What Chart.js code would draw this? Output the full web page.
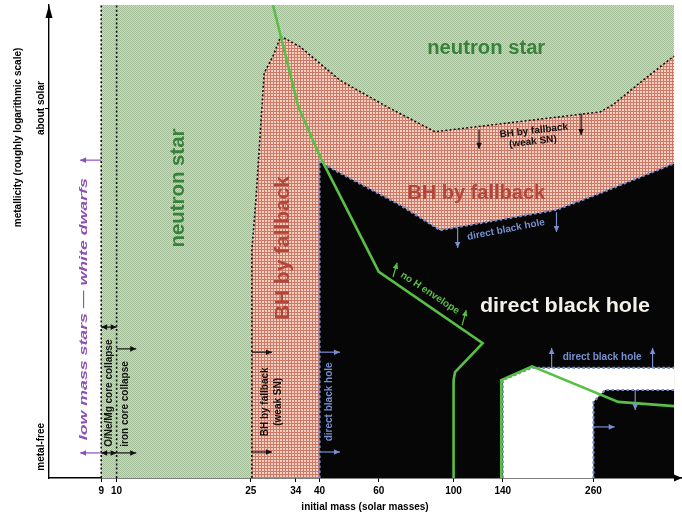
<!DOCTYPE html>
<html>
<head>
<meta charset="utf-8">
<script src="https://cdn.jsdelivr.net/npm/chart.js@4.4.1/dist/chart.umd.min.js"></script>
<style>
  html, body { margin: 0; padding: 0; background: #fff; }
  #wrap { width: 682px; height: 516px; }
</style>
</head>
<body>
<div id="wrap"><canvas id="remnants" width="682" height="516"></canvas></div>
<script>
"use strict";

// x: initial mass (solar masses, log), y: metallicity (0 = metal-free, arbitrary units)
const massTicks = [9, 10, 25, 34, 40, 60, 100, 140, 260];
const massTickLabels = ["9", "10", "25", "34", "40", "60", "100", "140", "260"];
const metalTicks = [6.6, 78.2];
const metalTickLabels = ["metal-free", "about solar"];

// regions as [mass, metallicity] polygons
const neutronStar = [[9, 0], [9, 100], [451, 100], [451, 0], [9, 0]];
const fallbackBH = [[25.2, 0], [25.2, 48.2], [25.9, 58.8], [27.4, 85.6], [29.2, 89.4], [30.7, 93.4],
  [35, 91.2], [46, 84.1], [63.4, 78.5], [82.3, 74.3], [88.1, 73.2], [272, 77.4], [297, 78.9],
  [365, 84.1], [451, 89.2], [451, 0], [25.2, 0]];
const directBH = [[40, 0], [40, 66.8], [69.4, 57.7], [91.2, 52.4], [100, 52.9], [202, 56.7],
  [272, 60.2], [451, 66.5], [451, 0], [40, 0]];
const pairInstability = [[140, 0], [140, 20.7], [171, 23.3], [451, 23.3], [451, 18.6],
  [281.5, 18.6], [260, 16.1], [260, 0], [140, 0]];

// boundary of hydrogen envelope loss
const noHEnvelope = [[29.1, 100], [30.7, 93.4], [32.7, 85.6], [34.6, 78.5], [40.2, 67.9],
  [60, 43.6], [122, 28.5], [101, 22.4], [100, 20.7], [100, 0]];
const noHEnvelopePair = [[138.5, 0], [138.5, 20.7], [171, 23.6], [308, 16.1], [451, 15.2]];

const massDividers = [9, 10];

const FONT = "'Liberation Sans', Arial, Helvetica, sans-serif";
const GREEN_TXT = "#37823a";
const RED_TXT = "#b3463a";
const BLUE = "#7890d2";
const PURPLE = "#8d50b6";
const LINE_GREEN = "#58c046";

function makePattern(w, h, paint) {
  const c = document.createElement("canvas");
  c.width = w; c.height = h;
  const g = c.getContext("2d");
  paint(g);
  return g.createPattern(c, "repeat");
}

const greenPat = makePattern(2, 2, g => {
  g.fillStyle = "#dcd6b4"; g.fillRect(0, 0, 2, 2);
  g.fillStyle = "#a3bc98"; g.fillRect(0, 0, 1, 1); g.fillRect(1, 1, 1, 1);
});
const pinkPat = makePattern(3, 3, g => {
  g.fillStyle = "#f4d2c2"; g.fillRect(0, 0, 3, 3);
  g.fillStyle = "#cf7868"; g.fillRect(0, 0, 3, 1); g.fillRect(0, 0, 1, 3);
});

function ds(points, extra) {
  return Object.assign({
    data: points.map(([x, y]) => ({ x, y })),
    pointRadius: 0,
    pointHoverRadius: 0,
    tension: 0,
    borderWidth: 1,
    borderColor: "rgba(0,0,0,0)",
    fill: false
  }, extra);
}

const dotted = { borderColor: "#111", borderWidth: 1.6, borderDash: [2, 2.2], order: 9 };
const blueDotted = { borderColor: BLUE, borderWidth: 2.2, borderDash: [2.5, 2.5], order: 8 };
const greenLine = { borderColor: LINE_GREEN, borderWidth: 2.6, order: 5 };

const datasets = [
  ds(neutronStar, { fill: "shape", backgroundColor: greenPat, order: 20 }),
  ds(fallbackBH, { fill: "shape", backgroundColor: pinkPat, order: 19 }),
  ds(directBH, { fill: "shape", backgroundColor: "#060606", order: 18 }),
  ds(pairInstability, { fill: "shape", backgroundColor: "#ffffff", order: 17 }),
  ...massDividers.map(m => ds([[m, 0], [m, 100]], dotted)),
  ds(fallbackBH.slice(0, -2), dotted),
  ds(directBH.slice(0, -2), blueDotted),
  ds(pairInstability.slice(0, 4), blueDotted),
  ds(pairInstability.slice(4, 8), blueDotted),
  ds(noHEnvelope, greenLine),
  ds(noHEnvelopePair, greenLine)
];

// annotation text: [text, mass, metallicity, rotation, font, colour, align, width]
const notes = [
  ["neutron star", 15.3, 61.3, -90, "bold 20px " + FONT, GREEN_TXT, "center", 119],
  ["neutron star", 125, 90.9, 0, "bold 20px " + FONT, GREEN_TXT, "center", 118],
  ["BH by fallback", 31.2, 48.6, -90, "bold 20px " + FONT, RED_TXT, "center", 144],
  ["BH by fallback", 116.7, 60.2, 0, "bold 20px " + FONT, RED_TXT, "center", 138],
  ["direct black hole", 214, 36.2, 0, "bold 20px " + FONT, "#f4f0e8", "center", 170],
  ["BH by fallback", 173, 73.4, -6.7, "bold 10px " + FONT, "#111", "center"],
  ["(weak SN)", 172, 71.1, -6.7, "bold 10px " + FONT, "#111", "center"],
  ["direct black hole", 143, 52.5, -11, "bold 10px " + FONT, BLUE, "center"],
  ["direct black hole", 276, 25.6, 0, "bold 10px " + FONT, BLUE, "center"],
  ["direct black hole", 42.7, 16.1, -90, "bold 10px " + FONT, BLUE, "center"],
  ["BH by fallback", 27.6, 16.1, -90, "bold 10px " + FONT, "#111", "center"],
  ["(weak SN)", 30.2, 16.1, -90, "bold 10px " + FONT, "#111", "center"],
  ["no H envelope", 85.1, 39.1, 33.7, "bold 10px " + FONT, LINE_GREEN, "center"],
  ["low mass stars \u2014 white dwarfs", 7.97, 8.0, -90, "italic bold 11.5px " + FONT, PURPLE, "left", 262],
  ["O/Ne/Mg core collapse", 9.49, 6.6, -90, "bold 10px " + FONT, "#111", "left"],
  ["iron core collapse", 10.6, 6.6, -90, "bold 10px " + FONT, "#111", "left"]
];

// arrows: [from, to, colour, double-headed]
const arrows = [
  [[9, 67.2], [7.79, 67.2], PURPLE], [[9, 5.3], [7.79, 5.3], PURPLE],
  [[9, 31.9], [10, 31.9], "#111", true], [[9, 5.3], [10, 5.3], "#111", true],
  [[10, 27.3], [11.43, 27.3], "#111"], [[10, 5.3], [11.43, 5.3], "#111"],
  [[25.2, 26.6], [28.9, 26.6], "#111"], [[25.2, 5.5], [28.9, 5.5], "#111"],
  [[40, 26.6], [46, 26.6], BLUE], [[40, 5.5], [46, 5.5], BLUE],
  [[119, 73.6], [119, 69.6], "#111"], [[239, 77.0], [239, 72.5], "#111"],
  [[102.8, 52.9], [102.8, 48.6], BLUE], [[202, 56.2], [202, 52.0], BLUE],
  [[195.4, 23.3], [195.4, 27.5], BLUE], [[389.5, 23.3], [389.5, 27.5], BLUE],
  [[346, 18.6], [346, 14.4], BLUE], [[260, 10.8], [300.6, 10.8], BLUE],
  [[66.1, 42.5], [68, 45.5], LINE_GREEN], [[106, 32.3], [109, 35.5], LINE_GREEN]
];

function head(ctx, x1, y1, x2, y2) {
  const a = Math.atan2(y2 - y1, x2 - x1), L = 6, W = 2.8;
  ctx.beginPath();
  ctx.moveTo(x2, y2);
  ctx.lineTo(x2 - L * Math.cos(a) + W * Math.sin(a), y2 - L * Math.sin(a) - W * Math.cos(a));
  ctx.lineTo(x2 - L * Math.cos(a) - W * Math.sin(a), y2 - L * Math.sin(a) + W * Math.cos(a));
  ctx.closePath();
  ctx.fill();
}

function text(ctx, t, x, y, rot, font, color, align, w) {
  ctx.save();
  ctx.translate(x, y);
  ctx.rotate(rot * Math.PI / 180);
  ctx.font = font;
  ctx.fillStyle = color;
  ctx.textAlign = align;
  ctx.textBaseline = "middle";
  if (w) ctx.scale(w / ctx.measureText(t).width, 1);
  ctx.fillText(t, 0, 0);
  ctx.restore();
}

const overlay = {
  id: "overlay",
  afterDatasetsDraw(chart) {
    const { ctx, scales: { x, y } } = chart;
    ctx.save();
    arrows.forEach(([a, b, color, both]) => {
      const x1 = x.getPixelForValue(a[0]), y1 = y.getPixelForValue(a[1]);
      const x2 = x.getPixelForValue(b[0]), y2 = y.getPixelForValue(b[1]);
      ctx.strokeStyle = color; ctx.fillStyle = color; ctx.lineWidth = 1.2;
      ctx.beginPath(); ctx.moveTo(x1, y1); ctx.lineTo(x2, y2); ctx.stroke();
      head(ctx, x1, y1, x2, y2);
      if (both) head(ctx, x2, y2, x1, y1);
    });
    notes.forEach(([t, m, z, rot, font, color, align, w]) => {
      text(ctx, t, x.getPixelForValue(m), y.getPixelForValue(z), rot, font, color, align, w);
    });
    ctx.restore();
  },
  afterDraw(chart) {
    const { ctx, chartArea: ca, scales: { y } } = chart;
    ctx.save();
    ctx.fillStyle = "#000";
    // axis arrow heads
    ctx.beginPath();
    ctx.moveTo(ca.left, ca.top); ctx.lineTo(ca.left - 3.5, ca.top + 13); ctx.lineTo(ca.left + 3.5, ca.top + 13);
    ctx.closePath(); ctx.fill();
    ctx.beginPath();
    ctx.moveTo(ca.right + 1, ca.bottom); ctx.lineTo(ca.right - 7, ca.bottom - 3.5); ctx.lineTo(ca.right - 7, ca.bottom + 3.5);
    ctx.closePath(); ctx.fill();
    // y labels and title
    metalTicks.forEach((v, i) => {
      text(ctx, metalTickLabels[i], ca.left - 8, y.getPixelForValue(v), -90, "bold 10px " + FONT, "#000", "center");
    });
    text(ctx, "metallicity (roughly logarithmic scale)", 18, y.getPixelForValue(72), -90, "bold 10px " + FONT, "#000", "center");
    ctx.restore();
  }
};

new Chart(document.getElementById("remnants"), {
  type: "line",
  data: { datasets },
  plugins: [overlay],
  options: {
    responsive: false,
    devicePixelRatio: 1,
    animation: false,
    events: [],
    layout: { padding: { top: 5, right: 1, left: 0, bottom: 0 } },
    plugins: { legend: { display: false }, tooltip: { enabled: false } },
    scales: {
      x: {
        type: "logarithmic",
        min: 6.3,
        max: 473,
        afterBuildTicks: s => { s.ticks = massTicks.map(v => ({ value: v })); },
        afterFit: s => { s.height = 38; },
        ticks: {
          autoSkip: false,
          maxRotation: 0,
          padding: 3,
          color: "#000",
          font: { family: FONT, size: 10, weight: "bold" },
          callback: v => massTickLabels[massTicks.indexOf(v)]
        },
        grid: { drawOnChartArea: false, tickLength: 4, color: "#000" },
        border: { display: true, color: "#000", width: 1.4 },
        title: {
          display: true,
          text: "initial mass (solar masses)",
          color: "#000",
          font: { family: FONT, size: 10, weight: "bold" },
          padding: { top: 0, bottom: 3 }
        }
      },
      y: {
        type: "linear",
        min: 0,
        max: 100,
        afterBuildTicks: s => { s.ticks = metalTicks.map(v => ({ value: v })); },
        afterFit: s => { s.width = 49; },
        ticks: { display: false },
        grid: {
          drawOnChartArea: false,
          tickLength: 4,
          color: c => (c.tick && c.tick.value > 50 ? "#000" : "rgba(0,0,0,0)")
        },
        border: { display: true, color: "#000", width: 1.4 }
      }
    }
  }
});
</script>
</body>
</html>
